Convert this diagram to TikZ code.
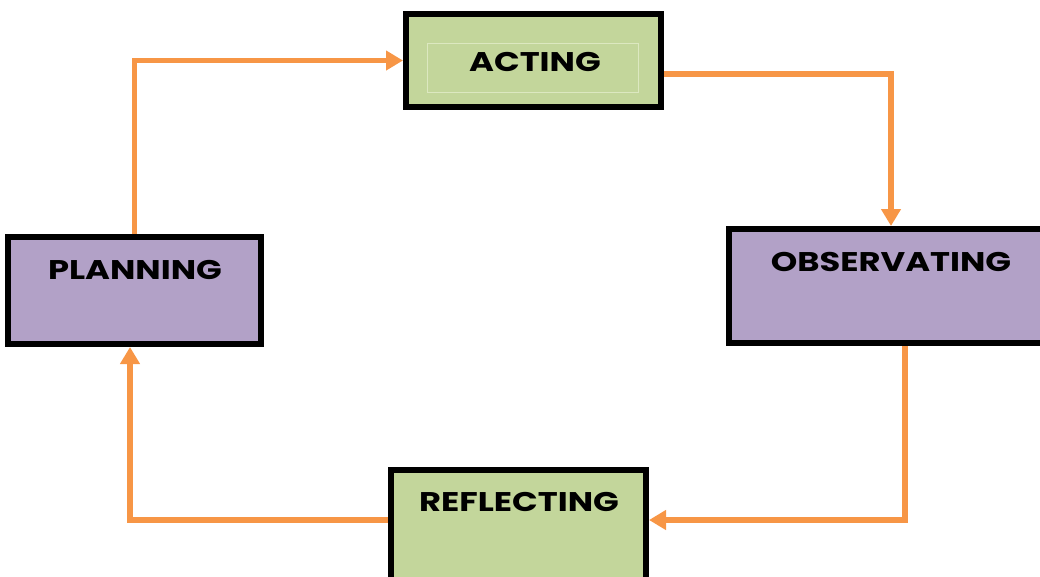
\documentclass[tikz,border=0pt]{standalone}
\usepackage{fontspec}
\setmainfont{Poppins}
\usetikzlibrary{arrows.meta,shadows,positioning}
\definecolor{flow}{HTML}{F79646}
\definecolor{stagegreen}{HTML}{C3D69B}
\definecolor{stagepurple}{HTML}{B2A1C7}
\definecolor{innerline}{HTML}{DCE8C0}
\newcommand{\stagename}[1]{\scalebox{1.25}[1]{#1}}
\tikzset{
  stagebox/.style={draw=black, line width=6pt, inner sep=0pt,
    drop shadow={shadow xshift=2pt, shadow yshift=-2pt, opacity=0.35, fill=black}},
  stagetext/.style={font=\fontsize{27}{30}\selectfont\bfseries, inner sep=0pt, text=black},
  flowline/.style={draw=flow, line width=5.5pt,
    -{Triangle[length=17pt,width=19pt]}},
}
\begin{document}
\begin{tikzpicture}[x=1pt,y=-1pt]
\useasboundingbox (0,0) rectangle (1040,576);

% stage boxes
\node[stagebox, fill=stagegreen, minimum width=255pt, minimum height=93pt] (ac) at (533.5,60.5) {};
\node[stagebox, fill=stagepurple, minimum width=316pt, minimum height=114pt] (ob) at (887,286) {};
\node[stagebox, fill=stagepurple, minimum width=253pt, minimum height=107pt] (pl) at (134.5,290.5) {};
\node[stagebox, fill=stagegreen, minimum width=255pt, minimum height=112pt] (rf) at (518.5,526) {};

% thin frame inside the acting box
\node[draw=innerline, line width=1pt, minimum width=211pt, minimum height=49pt, inner sep=0pt] (acframe) at (532.5,67.5) {};

% stage labels
\node[stagetext] (actext) at (535,62) {\stagename{ACTING}};
\node[stagetext] (obtext) at (891,262) {\stagename{OBSERVATING}};
\node[stagetext] (pltext) at (135,270) {\stagename{PLANNING}};
\node[stagetext] (rftext) at (519,502) {\stagename{REFLECTING}};

% cycle connectors
\draw[flowline] (pl.north) |- (ac.west);
\draw[flowline] ([yshift=-13.5pt]ac.east) -| ([xshift=4pt]ob.north);
\draw[flowline] ([xshift=18pt]ob.south) |- ([yshift=6pt]rf.east);
\draw[flowline] ([yshift=6pt]rf.west) -| ([xshift=-4.5pt]pl.south);
\end{tikzpicture}
\end{document}
